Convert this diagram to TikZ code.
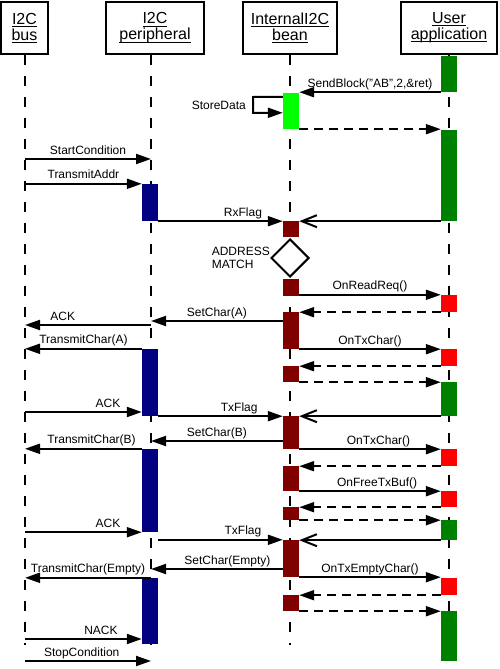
\documentclass[tikz,border=0pt]{standalone}
\usepackage{fontspec}
\setmainfont{Liberation Sans}
\usepackage{xcolor}
\usepackage{tikz}
\usetikzlibrary{shapes.geometric,arrows.meta,positioning,calc}

% underlined header word
\newcommand{\hdline}[1]{\setbox0\hbox{#1}\rlap{\rule[-2.5pt]{\wd0}{0.9pt}}\box0}

\begin{document}
\begin{tikzpicture}[x=1pt, y=-1pt,
  head/.style={draw, line width=2pt, minimum height=52pt, inner sep=0pt, align=center, font=\fontsize{16}{16}\selectfont},
  life/.style={line width=2pt, dash pattern=on 10pt off 11pt},
  bar/.style={rectangle, inner sep=0pt, minimum width=16pt},
  txt/.style={inner sep=0pt, font=\fontsize{12}{13}\selectfont},
  lbl/.style={txt, above=4pt, text depth=0pt},
  msg/.style={line width=2pt, -{Triangle[length=15pt,width=10pt]}},
  ret/.style={msg, dash pattern=on 9pt off 6pt},
  sig/.style={line width=2pt, -{Straight Barb[length=15pt,width=12pt,line width=2pt]}}]
\useasboundingbox (0,0) rectangle (500,669);

% Header boxes
\node[head, minimum width=47pt] (bus) at (24.5,28) {\hdline{I2C}\\\hdline{bus}};
\node[head, minimum width=98pt] (per) at (155,28) {\hdline{I2C}\\\hdline{peripheral}};
\node[head, minimum width=94pt] (bean) at (290,28) {\hdline{InternalI2C}\\\hdline{bean}};
\node[head, minimum width=96pt] (user) at (449,28) {\hdline{User}\\\hdline{application}};

% Lifelines
\coordinate (busL) at (25,55);   \coordinate (busE) at (25,645);
\coordinate (perL) at (151,55);  \coordinate (perE) at (151,645);
\coordinate (beanL) at (290,55); \coordinate (beanE) at (290,645);
\coordinate (userL) at (449,55); \coordinate (userE) at (449,661);
\draw[life] (busL) -- (busE);
\draw[life] (perL) -- (perE);
\draw[life] (beanL) -- (beanE);
\draw[life] (userL) -- (userE);

% Message rows
\coordinate (store) at (253,97);
\coordinate (start) at (0,159);
\coordinate (setA) at (0,321);
\coordinate (ackA) at (0,325);
\coordinate (ackB) at (0,412);
\coordinate (setB) at (0,441);
\coordinate (setE) at (0,569);
\coordinate (nack) at (0,639);
\coordinate (stop) at (0,661);

% User application bars
\node[bar, fill=green!50!black, minimum height=36pt] (u1) at (449,74) {};
\node[bar, fill=green!50!black, minimum height=91pt] (u2) at (449,175.5) {};
\node[bar, fill=red, minimum height=17pt] (u3) at (449,303.5) {};
\node[bar, fill=red, minimum height=17pt] (u4) at (449,357.5) {};
\node[bar, fill=green!50!black, minimum height=34pt] (u5) at (449,399) {};
\node[bar, fill=red, minimum height=17pt] (u6) at (449,457.5) {};
\node[bar, fill=red, minimum height=16pt] (u7) at (449,499) {};
\node[bar, fill=green!50!black, minimum height=20pt] (u8) at (449,530) {};
\node[bar, fill=red, minimum height=17pt] (u9) at (449,586.5) {};
\node[bar, fill=green!50!black, minimum height=50pt] (u10) at (449,636) {};

% Bean bars
\node[bar, fill=green, minimum height=36pt] (b1) at (291,111) {};
\node[bar, fill=red!50!black, minimum height=16pt] (b2) at (291,229) {};
\node[diamond, draw, line width=2pt, fill=white, minimum width=38pt, minimum height=38pt, inner sep=0pt] (match) at (290,258) {};
\node[bar, fill=red!50!black, minimum height=17pt] (b3) at (291,287.5) {};
\node[bar, fill=red!50!black, minimum height=37pt] (b4) at (291,330.5) {};
\node[bar, fill=red!50!black, minimum height=16pt] (b5) at (291,374) {};
\node[bar, fill=red!50!black, minimum height=33pt] (b6) at (291,432.5) {};
\node[bar, fill=red!50!black, minimum height=25pt] (b7) at (291,478.5) {};
\node[bar, fill=red!50!black, minimum height=13pt] (b8) at (291,513.5) {};
\node[bar, fill=red!50!black, minimum height=37pt] (b9) at (291,558.5) {};
\node[bar, fill=red!50!black, minimum height=16pt] (b10) at (291,603) {};

% Peripheral bars
\node[bar, fill=blue!50!black, minimum height=37pt] (p1) at (150,202.5) {};
\node[bar, fill=blue!50!black, minimum height=67pt] (p2) at (150,382.5) {};
\node[bar, fill=blue!50!black, minimum height=83pt] (p3) at (150,490.5) {};
\node[bar, fill=blue!50!black, minimum height=66pt] (p4) at (150,611) {};

% Send request
\draw[msg] (u1.south west) -- node[lbl]{SendBlock("AB",2,\&ret)} (u1.south west -| b1.east);
\draw[msg] ([yshift=-4pt]b1.north west) -- (store) |- ([yshift=-20pt]b1.north west);
\node[txt, anchor=east] (storetxt) at (246,105) {StoreData};
\draw[ret] (b1.south east) -- (b1.south east -| u2.west);

% Address phase
\draw[msg] (busL |- start) -- node[lbl]{StartCondition} (perL |- start);
\draw[msg] (busL |- p1.north) -- node[lbl]{TransmitAddr} (p1.north west);
\draw[msg] (p1.south east) -- node[lbl, pos=0.68]{RxFlag} (p1.south east -| b2.west);
\draw[sig] (u2.south west) -- (u2.south west -| b2.east);
\node[txt, align=left, anchor=east] (matchtxt) at (match.west) {ADDRESS\\MATCH};
\draw[msg] (u3.north west -| b3.east) -- node[lbl]{OnReadReq()} (u3.north west);
\draw[ret] (u3.south west) -- (u3.south west -| b4.east);

% First char
\draw[msg] (b4.west |- setA) -- node[lbl]{SetChar(A)} (perL |- setA);
\draw[msg] (perL |- ackA) -- node[lbl, pos=0.7]{ACK} (busL |- ackA);
\draw[msg] (p2.north west) -- node[lbl]{TransmitChar(A)} (busL |- p2.north);
\draw[msg] (b4.south east) -- node[lbl]{OnTxChar()} (b4.south east -| u4.west);
\draw[ret] (u4.south west) -- (u4.south west -| b5.east);
\draw[ret] (b5.south east) -- (b5.south east -| u5.west);
\draw[msg] (busL |- ackB) -- node[lbl, pos=0.71]{ACK} (p2.west |- ackB);
\draw[msg] (p2.south east) -- node[lbl, pos=0.65]{TxFlag} (p2.south east -| b6.west);
\draw[sig] (u5.south west) -- (u5.south west -| b6.east);

% Second char
\draw[msg] (b6.west |- setB) -- node[lbl]{SetChar(B)} (perL |- setB);
\draw[msg] (p3.north west) -- node[lbl, pos=0.43]{TransmitChar(B)} (busL |- p3.north);
\draw[msg] (b6.south east) -- node[lbl, pos=0.56]{OnTxChar()} (b6.south east -| u6.west);
\draw[ret] (u6.south west) -- (u6.south west -| b7.east);
\draw[msg] (b7.south east) -- node[lbl, pos=0.55]{OnFreeTxBuf()} (b7.south east -| u7.west);
\draw[ret] (u7.south west) -- (u7.south west -| b8.east);
\draw[ret] (b8.south east) -- (b8.south east -| u8.west);
\draw[msg] (busL |- p3.south) -- node[lbl, pos=0.71]{ACK} (p3.south west);
\draw[msg] (p3.east |- b9.north) -- node[lbl, pos=0.68]{TxFlag} (b9.north west);
\draw[sig] (u8.south west) -- (u8.south west -| b9.east);

% Empty char and stop
\draw[msg] (b9.west |- setE) -- node[lbl, pos=0.42]{SetChar(Empty)} (perL |- setE);
\draw[msg] (perL |- p4.north) -- node[lbl]{TransmitChar(Empty)} (busL |- p4.north);
\draw[msg] (b9.south east) -- node[lbl]{OnTxEmptyChar()} (b9.south east -| u9.west);
\draw[ret] (u9.south west) -- (u9.south west -| b10.east);
\draw[ret] (b10.south east) -- (b10.south east -| u10.west);
\draw[msg] (busL |- nack) -- node[lbl, pos=0.65]{NACK} (p4.west |- nack);
\draw[msg] (busL |- stop) -- node[lbl, pos=0.45]{StopCondition} (perL |- stop);
\end{tikzpicture}
\end{document}
